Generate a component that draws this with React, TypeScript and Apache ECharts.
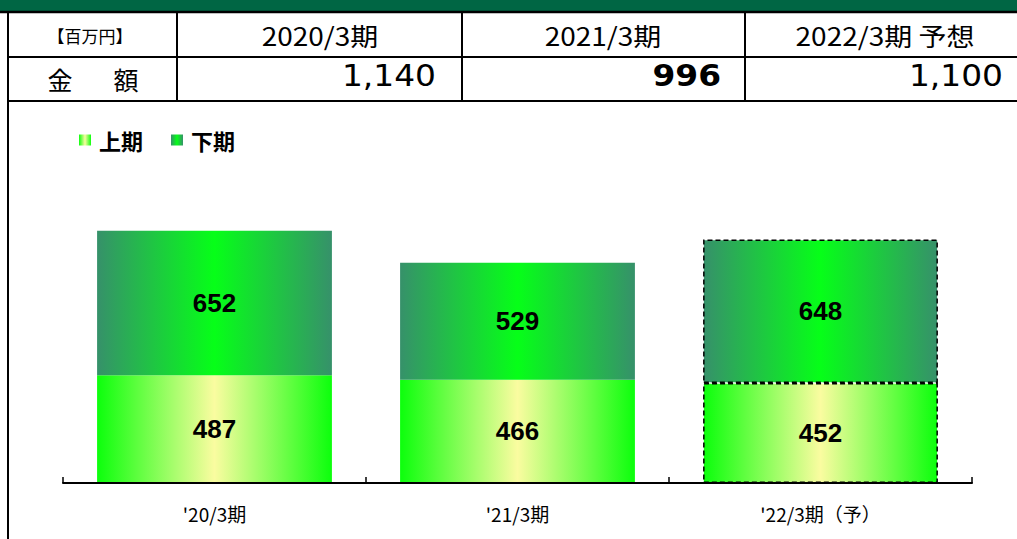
import React, { useEffect, useRef } from "react";
import * as echarts from "echarts";

const categories = ["'20/3期", "'21/3期", "'22/3期（予）"];
const firstHalf = [487, 466, 452];
const secondHalf = [652, 529, 648];
const tableHeaders = ["2020/3期", "2021/3期", "2022/3期 予想"];
const tableTotals = ["1,140", "996", "1,100"];

export default function App() {
  const ref = useRef<HTMLDivElement>(null);
  useEffect(() => {
    if (!ref.current) return;
    const chart = echarts.init(ref.current, undefined, { renderer: "svg" });
    const gFirst = new echarts.graphic.LinearGradient(0, 0, 1, 0, [
      { offset: 0, color: "#0cff0c" },
      { offset: 0.5, color: "#fafca0" },
      { offset: 1, color: "#0cff0c" },
    ]);
    const gSecond = new echarts.graphic.LinearGradient(0, 0, 1, 0, [
      { offset: 0, color: "#36916a" },
      { offset: 0.5, color: "#06ff18" },
      { offset: 1, color: "#36916a" },
    ]);
    const lineStyle = { stroke: "#000", lineWidth: 2 };
    const headerCenters = [320, 603, 885];
    const totalRights = [436, 721, 1003];
    const totalWeights = ["normal", "bold", "normal"];
    const cjk = "Noto Sans CJK JP";
    const graphic: any[] = [
      { type: "rect", shape: { x: 0, y: 0, width: 1017, height: 11 }, style: { fill: "#006644" } },
      { type: "line", shape: { x1: 0, y1: 12, x2: 1017, y2: 12 }, style: { ...lineStyle, lineWidth: 2.5 } },
      { type: "line", shape: { x1: 8, y1: 57, x2: 1017, y2: 57 }, style: lineStyle },
      { type: "line", shape: { x1: 8, y1: 101, x2: 1017, y2: 101 }, style: lineStyle },
      { type: "line", shape: { x1: 8, y1: 11, x2: 8, y2: 539 }, style: lineStyle },
      { type: "line", shape: { x1: 177, y1: 11, x2: 177, y2: 101 }, style: lineStyle },
      { type: "line", shape: { x1: 462, y1: 11, x2: 462, y2: 101 }, style: lineStyle },
      { type: "line", shape: { x1: 745, y1: 11, x2: 745, y2: 101 }, style: lineStyle },
      {
        type: "text", x: 90, y: 35,
        style: { text: "【百万円】", fill: "#000", fontSize: 17, fontFamily: cjk, align: "center", verticalAlign: "middle" },
      },
      {
        type: "text", x: 60, y: 79,
        style: { text: "金", fill: "#000", fontSize: 25, fontFamily: cjk, align: "center", verticalAlign: "middle" },
      },
      {
        type: "text", x: 126, y: 79,
        style: { text: "額", fill: "#000", fontSize: 25, fontFamily: cjk, align: "center", verticalAlign: "middle" },
      },
    ];
    tableHeaders.forEach((h, i) => {
      graphic.push({
        type: "text", x: headerCenters[i], y: 35, scaleX: 1.12,
        style: { text: h, fill: "#000", fontSize: 25, fontFamily: cjk, align: "center", verticalAlign: "middle" },
      });
    });
    tableTotals.forEach((t, i) => {
      graphic.push({
        type: "text", x: totalRights[i], y: 75, scaleX: 1.06,
        style: { text: t, fill: "#000", fontSize: 31, fontWeight: totalWeights[i], fontFamily: "DejaVu Sans", align: "right", verticalAlign: "middle" },
      });
    });

    const dashed = { borderColor: "#000", borderWidth: 1.5, borderType: [5, 3] as any };
    const labelStyle = { show: true, position: "inside", fontSize: 26, fontWeight: "bold", color: "#000", fontFamily: "Liberation Sans" };
    chart.setOption({
      animation: false,
      graphic,
      legend: {
        left: 74,
        top: 124,
        itemWidth: 12,
        itemHeight: 11,
        itemGap: 28,
        icon: "rect",
        textStyle: { fontSize: 22, fontWeight: "bold", color: "#000", fontFamily: cjk, padding: [0, 0, 0, 3] },
        data: ["上期", "下期"],
      },
      grid: { left: 63, right: 45, top: 173, bottom: 56 },
      xAxis: {
        type: "category",
        data: categories,
        axisLine: { show: true, lineStyle: { color: "#000", width: 2 } },
        axisTick: { show: true, inside: true, length: 6, lineStyle: { color: "#000", width: 1.5 } },
        axisLabel: { color: "#000", fontSize: 19, margin: 21, fontFamily: cjk },
        z: 10,
      },
      yAxis: { type: "value", min: 0, max: 1400, show: false, splitLine: { show: false } },
      series: [
        {
          name: "上期",
          type: "bar",
          stack: "a",
          barWidth: "77.5%",
          itemStyle: { color: gFirst },
          label: labelStyle,
          data: firstHalf.map((v, i) => (i === 2 ? { value: v, itemStyle: { color: gFirst, ...dashed } } : v)),
        },
        {
          name: "下期",
          type: "bar",
          stack: "a",
          barWidth: "77.5%",
          itemStyle: { color: gSecond },
          label: labelStyle,
          data: secondHalf.map((v, i) => (i === 2 ? { value: v, itemStyle: { color: gSecond, ...dashed } } : v)),
        },
      ],
    });
    return () => chart.dispose();
  }, []);
  return <div ref={ref} style={{ position: "fixed", left: 0, top: 0, width: 1017, height: 539, background: "#fff" }} />;
}
